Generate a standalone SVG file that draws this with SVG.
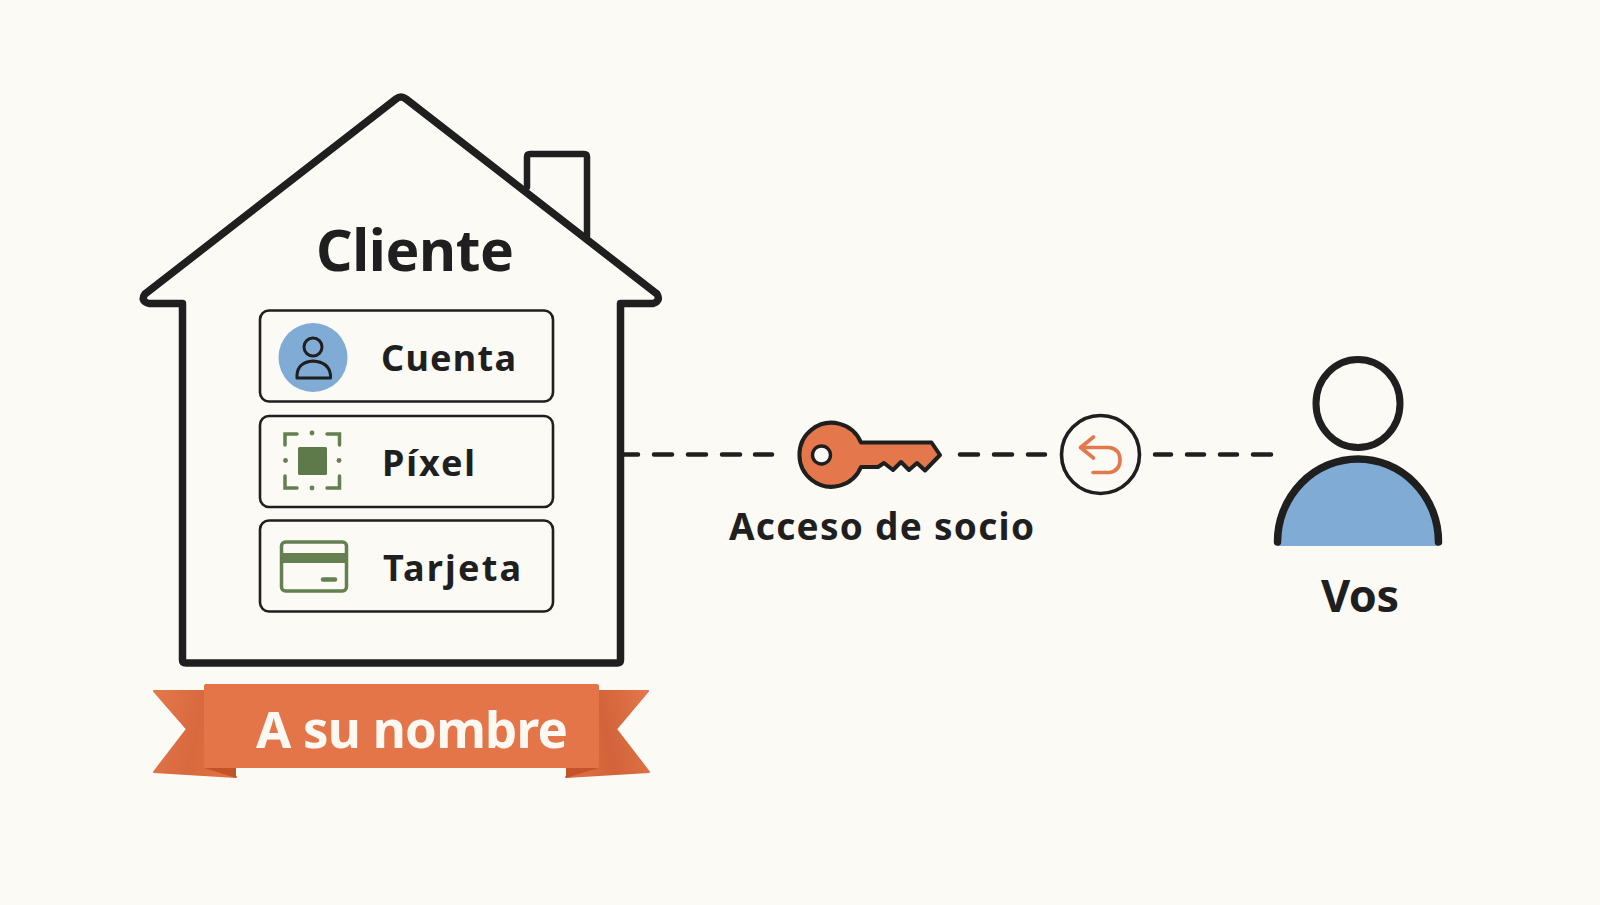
<svg xmlns="http://www.w3.org/2000/svg" width="1600" height="905" viewBox="0 0 1600 905">
  <style>
    text { font-family: "Noto Sans", "Liberation Sans", sans-serif; font-weight: 700; fill: #1f1f1f; }
    .ink { fill: none; stroke: #1f1f1f; stroke-linejoin: round; stroke-linecap: round; }
    .row { fill: #fbfaf5; stroke: #1f1f1f; stroke-width: 2.6; }
    .moss { fill: none; stroke: #657f50; stroke-linecap: round; }
    .dash { fill: none; stroke: #1f1f1f; stroke-width: 4.5; stroke-linecap: round; }
  </style>
  <defs>
    <linearGradient id="tailL" x1="0" y1="0" x2="1" y2="0.25">
      <stop offset="0" stop-color="#e4774b"/>
      <stop offset="0.6" stop-color="#d8693f"/>
      <stop offset="1" stop-color="#e0703f"/>
    </linearGradient>
    <linearGradient id="tailR" x1="1" y1="0" x2="0" y2="0.25">
      <stop offset="0" stop-color="#e4774b"/>
      <stop offset="0.6" stop-color="#d2633a"/>
      <stop offset="1" stop-color="#dd6d40"/>
    </linearGradient>
  </defs>
  <rect width="1600" height="905" fill="#fbfaf5"/>

  <g id="connectors">
    <path class="dash" d="M624 454.500H638M654 454.500H672M688 454.500H706M722 454.500H740M755 454.500H772"/>
    <path class="dash" d="M960 454.500H978M994 454.500H1012M1028 454.500H1045"/>
    <path class="dash" d="M1155 454.500H1171M1187 454.500H1204M1220 454.500H1237M1253 454.500H1271"/>
  </g>

  <g id="house">
    <path class="ink" stroke-width="6.500" d="M527 187V157Q527 154 530 154H584Q587 154 587 157V236"/>
    <path class="ink" stroke-width="7.500" fill="#fbfaf5" d="M182.500 303.500H149Q140 301 145 294L396 99Q401 95 406 99L657 294Q661 301 653 303.500H620.500V660Q620.500 663 617 663H186Q182.500 663 182.500 660Z"/>
    <text x="316" y="270.500" font-size="57" textLength="198">Cliente</text>
  </g>

  <g id="cuenta">
    <rect class="row" x="260" y="310.500" width="293" height="91" rx="9"/>
    <circle cx="313" cy="357.500" r="34.500" fill="#7fabd5"/>
    <circle class="ink" cx="313" cy="347" r="9" stroke-width="3"/>
    <path class="ink" stroke-width="3" d="M297 378V375Q298 362 313 361Q329 362 330.500 375V378Z"/>
    <text x="381" y="371" font-size="36" textLength="135">Cuenta</text>
  </g>

  <g id="pixel">
    <rect class="row" x="260" y="416" width="293" height="91" rx="9"/>
    <rect x="298" y="447" width="29" height="28" rx="1.500" fill="#5f7a4a"/>
    <path class="moss" stroke-width="3.500" d="M285 445V434H297M327 434H339.500V445M339.500 476V488H327M297 488H285V476"/>
    <g fill="#657f50">
      <circle cx="312" cy="433" r="2.400"/>
      <circle cx="312" cy="488" r="2.400"/>
      <circle cx="285.500" cy="460.500" r="2.400"/>
      <circle cx="339" cy="460.500" r="2.400"/>
    </g>
    <text x="382" y="476" font-size="36" textLength="93">Píxel</text>
  </g>

  <g id="tarjeta">
    <rect class="row" x="260" y="520.500" width="293" height="91" rx="9"/>
    <rect x="281.500" y="542" width="65" height="49" rx="4" fill="none" stroke="#657f50" stroke-width="3.500"/>
    <rect x="281" y="553" width="66" height="10" fill="#657f50"/>
    <path class="moss" stroke-width="4.500" d="M323 579.500H335"/>
    <text x="383" y="581" font-size="36" textLength="138">Tarjeta</text>
  </g>

  <g id="banner">
    <path fill="url(#tailL)" stroke="url(#tailL)" stroke-width="2" stroke-linejoin="round" d="M154 691H206V768L236 777L154 772L187 729Z"/>
    <path fill="url(#tailR)" stroke="url(#tailR)" stroke-width="2" stroke-linejoin="round" d="M648 691H597V768L566 777L649 772L616 729Z"/>
    <path fill="#c4532a" d="M204 768H236V778Z"/>
    <path fill="#c4532a" d="M598 768H566V778Z"/>
    <rect x="204" y="684" width="395" height="84" rx="2" fill="#e37548"/>
    <text x="256" y="748" font-size="51" textLength="312" style="fill:#fdf8f2">A su nombre</text>
  </g>

  <g id="llave">
    <path fill="#e4774b" stroke="#1f1f1f" stroke-width="4" stroke-linejoin="round" d="M861 442.500H931.500L940 455L925 470.500L917 463L909 470L901 462L893 470L884 463L878 467H861A32 32 0 1 1 861 442.500Z"/>
    <circle cx="821.500" cy="455" r="9" fill="#fbfaf5" stroke="#1f1f1f" stroke-width="3.400"/>
    <text x="729" y="539.500" font-size="37" textLength="305">Acceso de socio</text>
  </g>

  <g id="retorno">
    <circle cx="1100.500" cy="454.500" r="39" fill="#fbfaf5" stroke="#1f1f1f" stroke-width="3.600"/>
    <path fill="none" stroke="#e4774b" stroke-width="3.600" stroke-linecap="round" stroke-linejoin="round" d="M1093.500 437L1080.500 447.500L1093.500 458M1080.500 447.500H1109Q1120 449 1120 460Q1120 471 1109 472.500H1093"/>
  </g>

  <g id="vos">
    <ellipse class="ink" cx="1358" cy="403.500" rx="42" ry="44" stroke-width="7"/>
    <path fill="#7fabd5" d="M1277.500 546V542A80.500 83 0 0 1 1438.500 542V546Z"/>
    <path class="ink" stroke-width="7.500" d="M1277.500 542A80.500 83 0 0 1 1438.500 542"/>
    <text x="1321" y="612" font-size="45" textLength="78">Vos</text>
  </g>
</svg>
